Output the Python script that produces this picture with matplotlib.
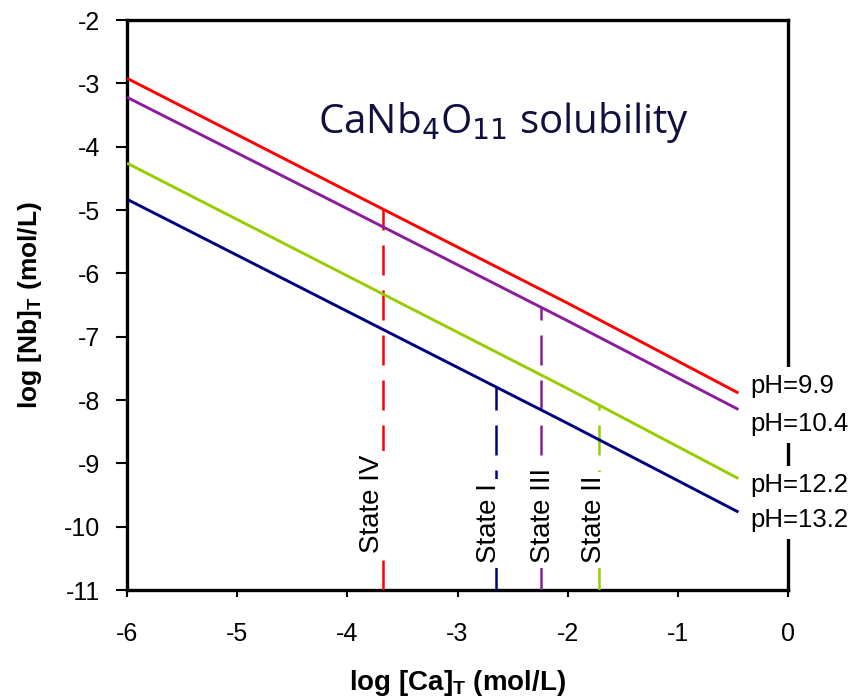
import matplotlib
matplotlib.use("Agg")
import matplotlib.pyplot as plt
import numpy as np

plt.rcParams['font.family'] = ['Liberation Sans', 'DejaVu Sans']

# data
x_ca = [-6.0, -4.0, -2.0, -0.45]
series_names = ["pH=9.9", "pH=10.4", "pH=12.2", "pH=13.2"]
nb_ph99 = [-2.92, -4.70, -6.47, -7.89]
nb_ph104 = [-3.22, -4.98, -6.75, -8.15]
nb_ph122 = [-4.26, -6.04, -7.82, -9.24]
nb_ph132 = [-4.83, -6.60, -8.37, -9.77]
colors = ["#ff0000", "#8b1c9c", "#99cc00", "#000080"]

state_names = ["State IV", "State I", "State III", "State II"]
state_x = [-3.68, -2.65, -2.24, -1.72]
state_series = [0, 3, 1, 2]  # line each state marker reaches

label_y = [-7.89, -8.49, -9.45, -10.01]

fig = plt.figure(figsize=(8.6, 6.99), dpi=100)
ax = fig.add_axes([127/860, 1-590/699, (788-127)/860, (590-20)/699])

all_series = [nb_ph99, nb_ph104, nb_ph122, nb_ph132]
for ys, c in zip(all_series, colors):
    ax.plot(x_ca, ys, color=c, lw=2.1, solid_capstyle='butt', zorder=3)

label_off = [-0.10, -0.065, 0.015, -0.04]
label_bottom = [-10.42, -10.58, -10.58, -10.58]
for name, xs, si, off, lb in zip(state_names, state_x, state_series, label_off, label_bottom):
    ytop = np.interp(xs, x_ca, all_series[si])
    ax.plot([xs, xs], [-11, ytop], color=colors[si], lw=1.8,
            dashes=(12, 6), zorder=2)
    ax.text(xs + off, lb, name, rotation=90, ha='center', va='bottom',
            fontsize=20, color='black', zorder=4,
            bbox=dict(facecolor='white', edgecolor='none', pad=3))

for name, ly in zip(series_names, label_y):
    ax.text(-0.34, ly, name, ha='left', va='baseline', fontsize=18.5,
            color='black', zorder=5, clip_on=False,
            bbox=dict(facecolor='white', edgecolor='none', pad=5))

ax.text(0.569, 0.82, r"CaNb$_4$O$_{11}$ solubility", transform=ax.transAxes,
        ha='center', va='center', fontsize=29, color='#10103f',
        family=['Open Sans', 'DejaVu Sans'])

ax.set_xlim(-6, 0)
ax.set_ylim(-11, -2)
ax.set_xticks(np.arange(-6, 1, 1))
ax.set_yticks(np.arange(-11, -1, 1))
ax.set_xticklabels([f"{v:d}" for v in range(-6, 1)])
ax.set_yticklabels([f"{v:d}" for v in range(-11, -1)])
ax.tick_params(axis='x', direction='out', length=5, width=1.5, labelsize=18, pad=18)
ax.tick_params(axis='y', direction='out', length=8, width=1.5, labelsize=18, pad=11)
for s in ax.spines.values():
    s.set_linewidth(2.4)
    s.set_zorder(1)

ax.set_xlabel(r"log [Ca]$_\mathregular{T}$ (mol/L)", fontsize=20, fontweight='bold', labelpad=16)
ax.set_ylabel(r"log [Nb]$_\mathregular{T}$ (mol/L)", fontsize=19, fontweight='bold', labelpad=15)

fig.savefig("out.png", dpi=100)
